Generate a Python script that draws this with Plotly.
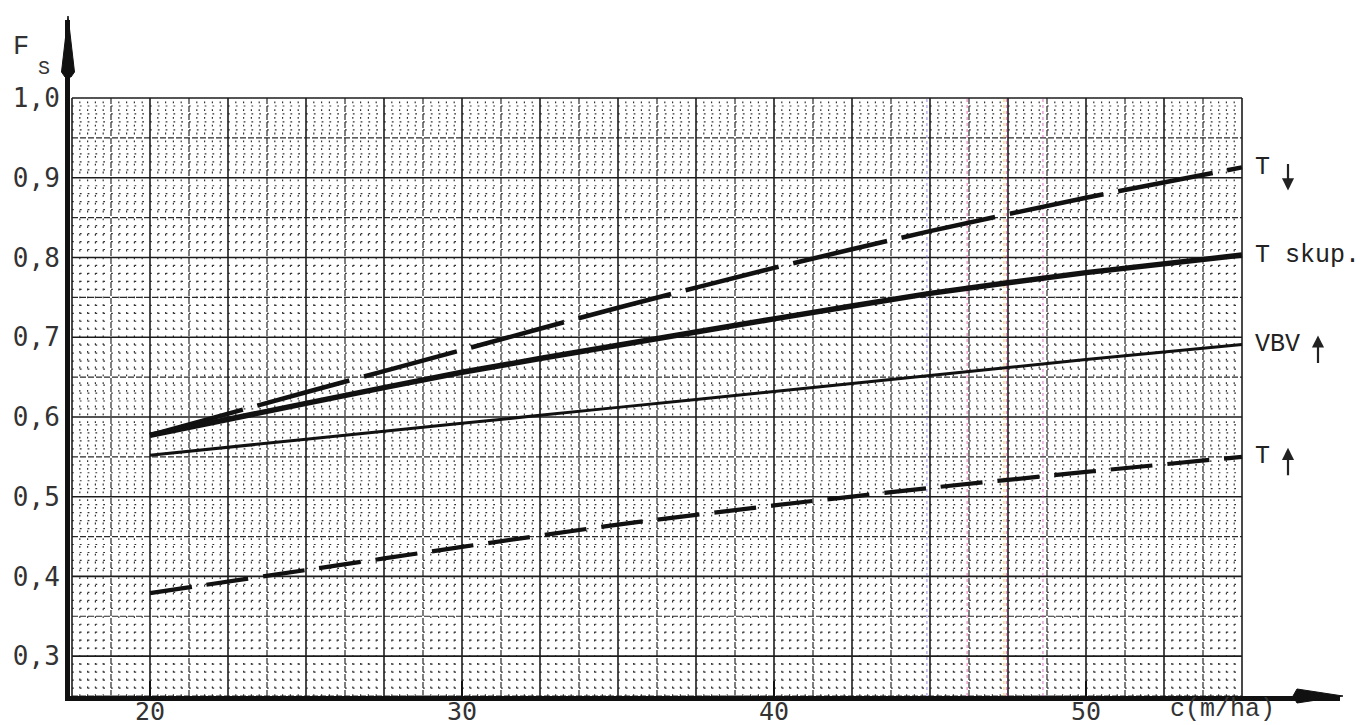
import plotly.graph_objects as go

# ---- data: F_S as a function of c (m/ha) ----
c = [20, 25, 30, 35, 40, 45, 50, 55]
fs_t_down = [0.577, 0.631, 0.684, 0.737, 0.787, 0.833, 0.875, 0.913]
fs_t_skup = [0.577, 0.617, 0.656, 0.690, 0.723, 0.755, 0.781, 0.803]
fs_vbv_up = [0.552, 0.572, 0.592, 0.612, 0.632, 0.652, 0.672, 0.691]
fs_t_up = [0.379, 0.408, 0.437, 0.465, 0.489, 0.511, 0.531, 0.550]

series_names = ["T", "T skup.", "VBV", "T"]
# direction arrow drawn after each name: -1 down, +1 up, 0 none
series_arrows = [-1, 0, 1, 1]

x_ticks = [20, 30, 40, 50]
x_tick_text = ["20", "30", "40", "50"]
y_ticks = [0.3, 0.4, 0.5, 0.6, 0.7, 0.8, 0.9, 1.0]
y_tick_text = ["0,3", "0,4", "0,5", "0,6", "0,7", "0,8", "0,9", "1,0"]

# ---- page geometry ----
W, H = 1365, 725
ML, MR, MT, MB = 70, 25, 20, 29
PX_PER_C = 31.2          # pixels per unit of c
PX_PER_F = 797.3         # pixels per unit of F_S
X0 = 20 - (150 - ML) / PX_PER_C
X1 = 20 + (W - MR - 150) / PX_PER_C
Y0 = 0.25
Y1 = Y0 + (H - MT - MB) / PX_PER_F


def paper_x(px):
    return (px - ML) / (W - ML - MR)


def paper_y(py):
    return (H - MB - py) / (H - MT - MB)


# ---- graph paper: squares of 1.25 (c) x 0.05 (F_S), five subdivisions ----
SQ_C, SQ_F, SUB = 1.25, 0.05, 5
C_LO, C_HI, F_LO, F_HI = 17.5, 55.0, 0.25, 1.0
n_c = int(round((C_HI - C_LO) / SQ_C * SUB))
n_f = int(round((F_HI - F_LO) / SQ_F * SUB))


def v_lines(values):
    xs, ys = [], []
    for v in values:
        xs += [v, v, None]
        ys += [F_LO, F_HI, None]
    return xs, ys


def h_lines(values):
    xs, ys = [], []
    for v in values:
        xs += [C_LO, C_HI, None]
        ys += [v, v, None]
    return xs, ys


minor_c = [C_LO + j * SQ_C / SUB for j in range(1, n_c) if j % SUB]
minor_f = [F_LO + j * SQ_F / SUB for j in range(1, n_f) if j % SUB]
major_c = [C_LO + k * SQ_C for k in range(0, n_c // SUB + 1)]
major_f = [F_LO + k * SQ_F for k in range(0, n_f // SUB + 1)]
heavy_c = [v for k, v in enumerate(major_c) if k % 2 == 0]
light_c = [v for k, v in enumerate(major_c) if k % 2 == 1]
heavy_f = [v for k, v in enumerate(major_f) if k % 2 == 1]
light_f = [v for k, v in enumerate(major_f) if k % 2 == 0]

fig = go.Figure()

ink = "#1c1c1c"

for xs, ys, width, dash, col in [
    (*v_lines(minor_c), 1.2, "1.8px,6px", "#333333"),
    (*h_lines(minor_f), 1.2, "1.8px,6px", "#333333"),
    (*v_lines(light_c), 1.2, "6px,2px", "#2a2a2a"),
    (*h_lines(light_f), 1.2, "6px,2px", "#2a2a2a"),
    (*v_lines(heavy_c), 1.6, "solid", ink),
    (*h_lines(heavy_f), 1.6, "solid", ink),
]:
    fig.add_trace(go.Scatter(
        x=xs, y=ys, mode="lines", hoverinfo="skip", showlegend=False,
        line=dict(color=col, width=width, dash=dash),
    ))

# faint coloured rulings on the sheet
for cv, col in [(44.9, "#7b62d8"), (46.19, "#e0409a"), (47.37, "#e8c020"),
                (47.45, "#e0409a"), (48.62, "#d04aa8")]:
    fig.add_trace(go.Scatter(
        x=[cv, cv], y=[F_LO, F_HI], mode="lines", hoverinfo="skip",
        showlegend=False, opacity=0.55,
        line=dict(color=col, width=1.4, dash="3px,3px"),
    ))

# ---- the four curves ----
curves = [
    (fs_t_down, 4.5, "96px,15px"),
    (fs_t_skup, 5.5, "solid"),
    (fs_vbv_up, 3.0, "solid"),
    (fs_t_up, 4.2, "42px,15px"),
]
label_font = dict(family="Liberation Mono", size=25, color="#222222")
for (vals, width, dash), name, arrow in zip(curves, series_names, series_arrows):
    fig.add_trace(go.Scatter(
        x=c, y=vals, mode="lines", name=name, showlegend=False,
        line=dict(color="#111111", width=width, dash=dash,
                  shape="spline", smoothing=0.6),
    ))
    fig.add_annotation(
        x=c[-1], y=vals[-1], text=name, showarrow=False,
        xanchor="left", yanchor="middle", xshift=11, font=label_font,
    )
    if arrow:
        # small vertical arrow to the right of the name
        shift_x = 11 + 15 * len(name) + 20
        fig.add_annotation(
            x=c[-1], y=vals[-1], text="", showarrow=True,
            xshift=shift_x, yshift=(-23 if arrow < 0 else 9),
            ax=0, ay=(-28 if arrow < 0 else 29),
            arrowhead=2, arrowsize=1.1, arrowwidth=2.2, arrowcolor="#222222",
        )

# ---- axis titles ----
for px, py, txt, size in [(21, 47, "F", 27), (44, 69, "S", 20), (1222, 709, "c(m/ha)", 25)]:
    fig.add_annotation(x=paper_x(px), y=paper_y(py), xref="paper", yref="paper",
                       xanchor="center", yanchor="middle", text=txt, showarrow=False,
                       font=dict(family="Liberation Mono", size=size, color="#333333"))

# ---- x tick labels below the axis ----
for v, txt in zip(x_ticks, x_tick_text):
    fig.add_annotation(x=v, y=paper_y(711), xref="x", yref="paper",
                       xanchor="center", yanchor="middle", text=txt, showarrow=False,
                       font=dict(family="DejaVu Sans Mono", size=25, color="#333333"))


# ---- arrow heads on both axes ----
def px_path(points):
    d = ""
    for cmd, px, py in points:
        d += f"{cmd} {paper_x(px):.5f},{paper_y(py):.5f} "
    return d + "Z"


fig.add_shape(type="path", xref="paper", yref="paper",
              path=px_path([("M", 61.5, 72), ("L", 68, 16), ("L", 74.5, 72),
                            ("L", 71, 77), ("L", 65, 77)]),
              fillcolor="#111111", line=dict(color="#111111", width=1))
fig.add_shape(type="path", xref="paper", yref="paper",
              path=px_path([("M", 1297, 689), ("L", 1343, 696), ("L", 1297, 703),
                            ("L", 1293, 696)]),
              fillcolor="#111111", line=dict(color="#111111", width=1))

fig.update_layout(
    width=W, height=H,
    margin=dict(l=ML, r=MR, t=MT, b=MB, autoexpand=False),
    paper_bgcolor="white", plot_bgcolor="white",
    showlegend=False,
    xaxis=dict(
        range=[X0, X1], showgrid=False, zeroline=False,
        showline=True, linewidth=5, linecolor="#111111",
        tickmode="array", tickvals=x_ticks, ticktext=x_tick_text,
        showticklabels=False,
        ticks="inside", ticklen=15, tickwidth=2, tickcolor="#111111",
        automargin=False,
    ),
    yaxis=dict(
        range=[Y0, Y1], showgrid=False, zeroline=False,
        showline=True, linewidth=5, linecolor="#111111",
        tickmode="array", tickvals=y_ticks, ticktext=y_tick_text,
        ticks="", tickfont=dict(family="DejaVu Sans Mono", size=26, color="#333333"),
        automargin=False,
    ),
)

fig.write_html("out.html")
